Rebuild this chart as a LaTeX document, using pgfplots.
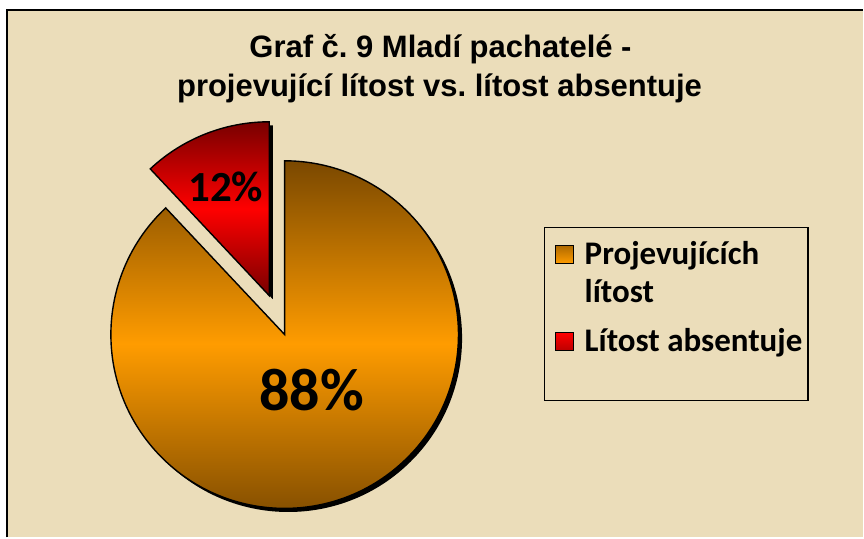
\documentclass[border=0pt]{standalone}
\usepackage{pgfplots}
\pgfplotsset{compat=1.18}
\usepackage{pgfplotstable}
\usepackage{fontspec}
\setmainfont{Carlito}
\newfontfamily\arialf{Liberation Sans}

\definecolor{bg}{HTML}{EBDDBA}
\definecolor{obrown}{HTML}{7A4800}
\definecolor{oorange}{HTML}{FF9C00}
\definecolor{rdark}{HTML}{780000}
\definecolor{rbright}{HTML}{FF0000}

\pgfplotstableread{
slice value
1 88
2 12
}\piedata

\begin{document}\frenchspacing%
\begin{tikzpicture}
\pgfplotstablegetelem{0}{value}\of\piedata \let\va\pgfplotsretval
\pgfplotstablegetelem{1}{value}\of\piedata \let\vb\pgfplotsretval
\pgfmathsetmacro{\sb}{90+3.6*\vb}
\pgfmathsetmacro{\mb}{90+1.8*\vb}
\pgfmathsetmacro{\ea}{\sb+3.6*\va}
\begin{axis}[width=432pt,height=269pt,scale only axis,
  xmin=0,xmax=864,ymin=0,ymax=538,hide axis,clip=false]
% background and frame
\fill[white] (axis cs:0,0) rectangle (axis cs:864,538);
\fill[bg] (axis cs:7,0) rectangle (axis cs:864,528);
\draw[line width=1pt] (axis cs:7,0) -- (axis cs:7,528) -- (axis cs:864,528);
% title
\node[anchor=base, font=\arialf\bfseries\fontsize{15.5}{18}\selectfont] at (axis cs:441,480) {Graf č. 9 Mladí pachatelé -};
\node[anchor=base, font=\arialf\bfseries\fontsize{15.5}{18}\selectfont] at (axis cs:440,441) {projevující lítost vs. lítost absentuje};
% orange slice (88 %)
\fill[black] ([shift={(1.8pt,-1.8pt)}]axis cs:285,203) -- ++(\sb:87pt) arc[start angle=\sb,end angle=\ea,radius=87pt] -- cycle;
\shadedraw[top color=obrown, bottom color=obrown, middle color=oorange, draw=black, line width=0.7pt]
  (axis cs:285,203) -- ++(\sb:87pt) arc[start angle=\sb,end angle=\ea,radius=87pt] -- cycle;
% red slice (12 %), exploded
\fill[black] ([shift={(\mb:21pt)},shift={(1.8pt,-1.8pt)}]axis cs:285,203) -- ++(90:87pt) arc[start angle=90,end angle=\sb,radius=87pt] -- cycle;
\shadedraw[top color=rdark, bottom color=rdark, middle color=rbright, draw=black, line width=0.7pt]
  ([shift={(\mb:21pt)}]axis cs:285,203) -- ++(90:87pt) arc[start angle=90,end angle=\sb,radius=87pt] -- cycle;
% data labels
\node[font=\bfseries\fontsize{30}{34}\selectfont] at (axis cs:312,147) {88\%};
\node[font=\bfseries\fontsize{21.5}{25}\selectfont] at (axis cs:226,351) {12\%};
% legend
\draw[line width=0.6pt] (axis cs:545,137) rectangle (axis cs:809,310);
\shadedraw[top color=obrown!60!oorange, bottom color=oorange, draw=black, line width=0.5pt] (axis cs:556,274) rectangle (axis cs:574,292);
\shadedraw[top color=rbright, bottom color=rdark!50!rbright, draw=black, line width=0.5pt] (axis cs:556,187) rectangle (axis cs:574,205);
\node[anchor=base west, font=\bfseries\fontsize{16.5}{19}\selectfont, inner sep=0pt] at (axis cs:585,273) {Projevujících};
\node[anchor=base west, font=\bfseries\fontsize{16.5}{19}\selectfont, inner sep=0pt] at (axis cs:585,235) {lítost};
\node[anchor=base west, font=\bfseries\fontsize{16.5}{19}\selectfont, inner sep=0pt] at (axis cs:585,186) {Lítost absentuje};
\end{axis}
\end{tikzpicture}
\end{document}
